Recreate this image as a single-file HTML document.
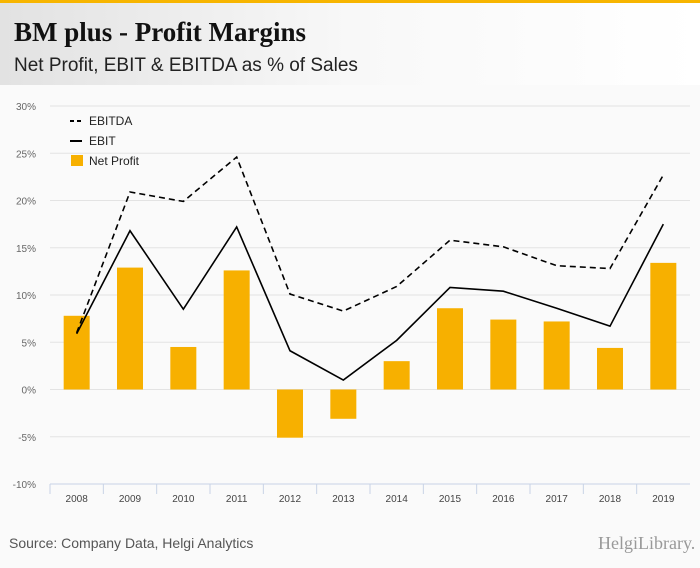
<!DOCTYPE html>
<html><head><meta charset="utf-8"><style>
body{margin:0;width:700px;height:568px;background:#fafafa;font-family:"Liberation Sans",sans-serif;overflow:hidden;position:relative}
#top{position:absolute;left:0;top:0;width:700px;height:3px;background:#f7b500}
#hdr{position:absolute;left:0;top:3px;width:700px;height:82px;background:linear-gradient(90deg,#e2e2e2,#f8f8f8 50%,#fff)}
#title{position:absolute;left:14px;top:14px;font-family:"Liberation Serif",serif;font-weight:bold;font-size:27px;color:#111}
#sub{position:absolute;left:14px;top:52px;font-size:19px;color:#222}
#src{position:absolute;left:9px;top:535px;font-size:14px;color:#555}
#logo{position:absolute;left:598px;top:533px;font-size:18px;color:#999;font-family:"Liberation Serif",serif}
</style></head><body>
<div id="top"></div>
<div id="hdr">
<div id="title">BM plus - Profit Margins</div>
<div id="sub">Net Profit, EBIT &amp; EBITDA as % of Sales</div></div>
<svg id="chart" width="700" height="568" style="position:absolute;left:0;top:0"></svg>
<div id="src">Source: Company Data, Helgi Analytics</div>
<div id="logo">HelgiLibrary.</div>
<script>
const years=["2008","2009","2010","2011","2012","2013","2014","2015","2016","2017","2018","2019"];
const netProfit=[7.8,12.9,4.5,12.6,-5.1,-3.1,3.0,8.6,7.4,7.2,4.4,13.4];
const ebit=[5.9,16.8,8.5,17.2,4.1,1.0,5.2,10.8,10.4,8.6,6.7,17.5];
const ebitda=[6.0,20.9,19.9,24.6,10.1,8.3,10.9,15.8,15.1,13.1,12.8,22.7];
const ticks=[-10,-5,0,5,10,15,20,25,30];
const NS="http://www.w3.org/2000/svg",svg=document.getElementById('chart');
const x0=50,x1=690,bw=(x1-x0)/years.length;
const y=v=>389.5-v*9.45, xc=i=>x0+bw*(i+0.5);
function mk(t,a){const e=document.createElementNS(NS,t);for(const k in a)e.setAttribute(k,a[k]);svg.appendChild(e);return e;}
ticks.forEach(t=>{
 const l=mk('line',{x1:x0,x2:x1,y1:y(t),y2:y(t),stroke:t==-10?'#c8d3e6':'#e3e3e3','stroke-width':1});
 
 
 const tx=mk('text',{x:36,y:y(t)+4,'text-anchor':'end','font-size':10,fill:'#666'});tx.textContent=t+'%';
 
 
});
years.forEach((yr,i)=>{
 const tk=mk('line',{x1:x0+bw*i,x2:x0+bw*i,y1:y(-10),y2:y(-10)+10,stroke:'#c8d3e6'});
 
 
 const tx=mk('text',{x:xc(i),y:502,'text-anchor':'middle','font-size':10,fill:'#444'});tx.textContent=yr;
 
 
 const v=netProfit[i];
 const b=mk('rect',{x:xc(i)-13,width:26,y:Math.min(y(v),y(0)),height:Math.abs(y(v)-y(0)),fill:'#f7b000'});
 
 
});
const pts=a=>a.map((v,i)=>xc(i)+','+y(v)).join(' ');
const l1=mk('polyline',{points:pts(ebitda),fill:'none',stroke:'#000','stroke-width':1.6,'stroke-dasharray':'6,4'});


const l2=mk('polyline',{points:pts(ebit),fill:'none',stroke:'#000','stroke-width':1.6});


const leg=[['EBITDA','dash',121],['EBIT','line',141],['Net Profit','bar',161]];
leg.forEach(([n,k,yy])=>{
 if(k=='bar'){const r=mk('rect',{x:71,y:yy-6,width:12,height:11,fill:'#f7b000'});}
 else{const l=mk('line',{x1:70,x2:82,y1:yy,y2:yy,stroke:'#000','stroke-width':2,'stroke-dasharray':k=='dash'?'4,3':'none'});}
 const t=mk('text',{x:89,y:yy+4,'font-size':12,fill:'#222'});t.textContent=n;
 
 
});
</script>
</body></html>
